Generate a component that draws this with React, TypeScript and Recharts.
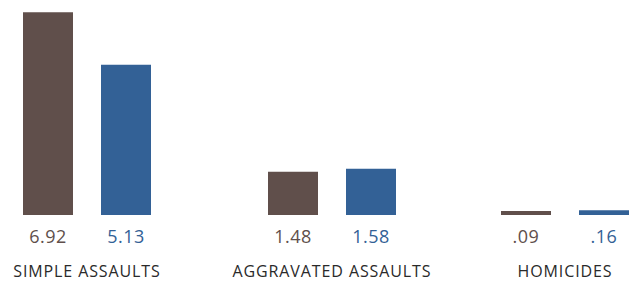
import React from 'react';
import { BarChart, Bar, XAxis, YAxis, LabelList } from 'recharts';

// rates per 1,000 — two groups compared side by side
const categories = ['SIMPLE ASSAULTS', 'AGGRAVATED ASSAULTS', 'HOMICIDES'];
const firstValues = [6.92, 1.48, 0.09];
const secondValues = [5.13, 1.58, 0.16];

// horizontal center of each group in the picture
const groupCenters = [86.5, 331.5, 564.5];

const BROWN = '#604f4b';
const BLUE = '#336196';
const FONT = '"Open Sans", sans-serif';

const fmt = (v: any) => Number(v).toFixed(2).replace(/^0/, '');

const CHART_W = 250;

const CategoryTick = (props: any) => {
  const { x, y, payload } = props;
  return (
    <text x={x} y={y} dy={54} textAnchor="middle" fill="#2a2a2a" fontSize={16} fontWeight={500}
      letterSpacing={0.9} fontFamily={FONT}>
      {payload.value}
    </text>
  );
};

const Group = ({ index }: { index: number }) => {
  const data = [{ name: categories[index], a: firstValues[index], b: secondValues[index] }];
  return (
    <div style={{ position: 'absolute', left: groupCenters[index] - CHART_W / 2, top: 0 }}>
      <BarChart
        width={CHART_W}
        height={295}
        data={data}
        margin={{ top: 10, right: 60, left: 60, bottom: 0 }}
        barCategoryGap={0}
        barGap={28}
      >
        <XAxis
          dataKey="name"
          axisLine={false}
          tickLine={false}
          height={80}
          interval={0}
          tick={<CategoryTick />}
        />
        <YAxis hide domain={[0, 7]} />
        <Bar dataKey="a" fill={BROWN} barSize={50} minPointSize={4} isAnimationActive={false}>
          <LabelList dataKey="a" position="bottom" offset={15} formatter={fmt}
            style={{ fill: BROWN, fontSize: 18, fontWeight: 500, letterSpacing: 0.5, fontFamily: FONT }} />
        </Bar>
        <Bar dataKey="b" fill={BLUE} barSize={50} minPointSize={4} isAnimationActive={false}>
          <LabelList dataKey="b" position="bottom" offset={15} formatter={fmt}
            style={{ fill: BLUE, fontSize: 18, fontWeight: 500, letterSpacing: 0.5, fontFamily: FONT }} />
        </Bar>
      </BarChart>
    </div>
  );
};

export default function App() {
  return (
    <div style={{ position: 'absolute', left: 0, top: 0, width: 629, height: 281, overflow: 'hidden', background: '#fff' }}>
      {categories.map((c, i) => (
        <Group key={c} index={i} />
      ))}
    </div>
  );
}
